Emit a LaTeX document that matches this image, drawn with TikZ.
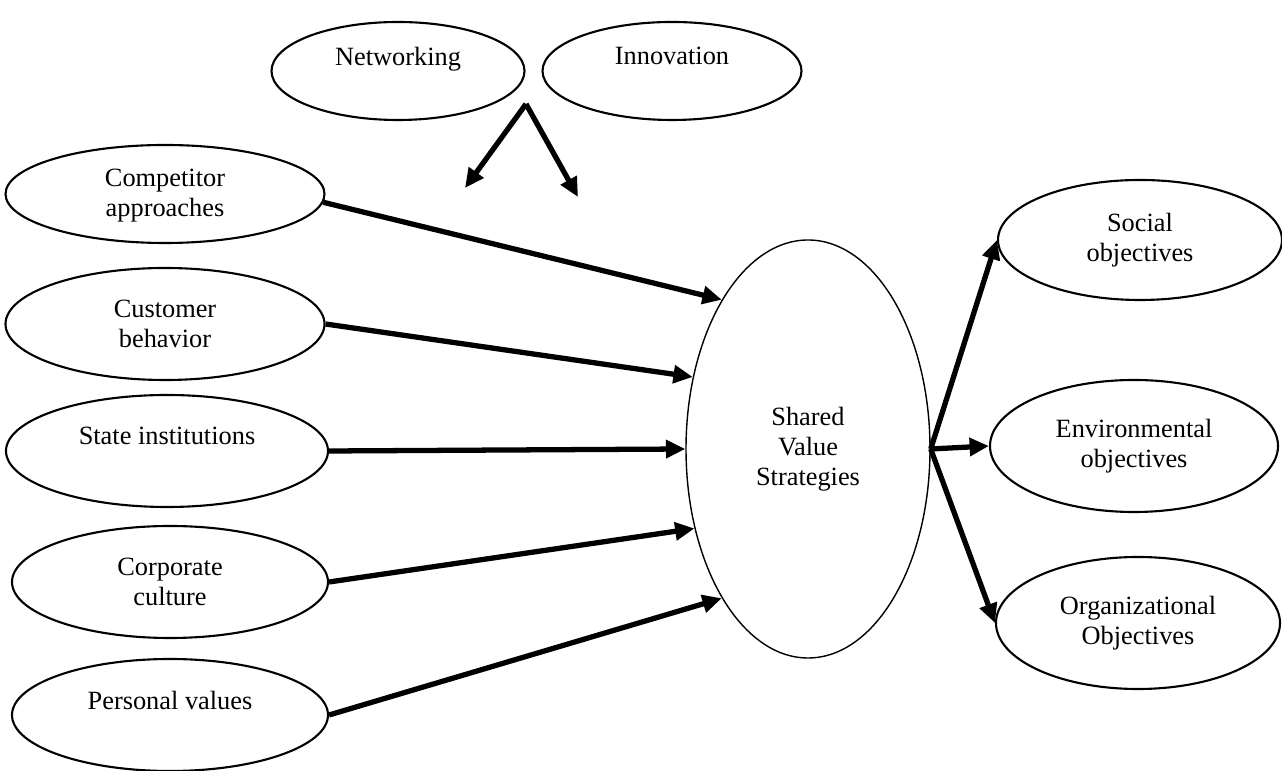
\documentclass[tikz,border=0pt]{standalone}
\usepackage{fontspec}
\setmainfont{Liberation Serif}
\usepackage{tikz}
\usetikzlibrary{arrows.meta,shapes.geometric}

\begin{document}
\begin{tikzpicture}
					\tikzstyle{vertex}=[ellipse,draw=black,line width=1.2pt,inner sep=0pt,align=center,font=\fontsize{15}{17}\selectfont]
					\tikzstyle{link}=[line width=3pt,-{Triangle[length=11pt,width=10pt]}]
					\useasboundingbox (0,0) rectangle (25.64,15.42);
					\node[vertex,minimum width=5.06cm,minimum height=1.96cm] (1) at (7.96,14.00) {Networking\\\mbox{}};
					\node[vertex,minimum width=5.18cm,minimum height=1.96cm] (2) at (13.44,14.00) {Innovation\\\mbox{}};
					\node[vertex,minimum width=6.38cm,minimum height=1.96cm] (3) at (3.30,11.54) {\mbox{}\\[-5pt]Competitor\\approaches};
					\node[vertex,minimum width=6.38cm,minimum height=2.24cm] (4) at (3.30,8.94) {Customer\\behavior};
					\node[vertex,minimum width=6.44cm,minimum height=2.24cm] (5) at (3.34,6.40) {State institutions\\\mbox{}};
					\node[vertex,minimum width=6.32cm,minimum height=2.24cm] (6) at (3.40,3.78) {Corporate\\culture};
					\node[vertex,minimum width=6.32cm,minimum height=2.24cm] (7) at (3.40,1.12) {Personal values\\\mbox{}};
					\node[vertex,line width=0.8pt,minimum width=4.88cm,minimum height=8.36cm] (8) at (16.16,6.44) {Shared\\Value\\Strategies};
					\node[vertex,minimum width=5.68cm,minimum height=2.40cm] (9) at (22.80,10.62) {Social\\objectives};
					\node[vertex,minimum width=5.76cm,minimum height=2.64cm] (10) at (22.68,6.50) {Environmental\\objectives};
					\node[vertex,minimum width=5.68cm,minimum height=2.64cm] (11) at (22.76,2.96) {Organizational\\Objectives};
					\coordinate (s) at (10.52,13.34);
					\coordinate (a) at (9.30,11.66);
					\coordinate (b) at (11.56,11.48);
					\draw[link] (s) -- (a);
					\draw[link] (s) -- (b);
					\draw[link] (3.-3) -- (8.120);
					\draw[link] (4.east) -- (8.148);
					\draw[link] (5.east) -- (8.180);
					\draw[link] (6.east) -- (8.215);
					\draw[link] (7.east) -- (8.240);
					\draw[link] (8.east) -- (9.west);
					\draw[link] (8.east) -- (10.west);
					\draw[link] (8.east) -- (11.west);
					\end{tikzpicture}
\end{document}
